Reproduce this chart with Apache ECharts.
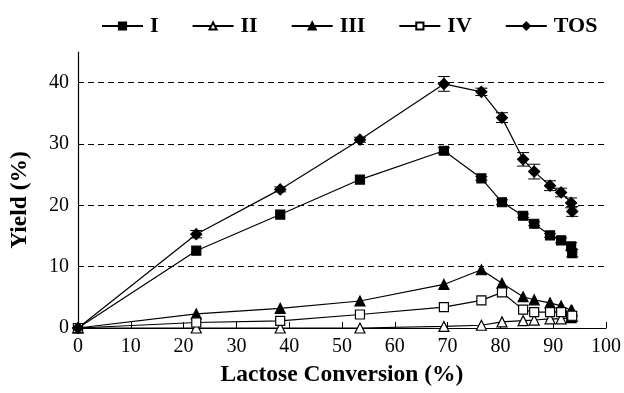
<!DOCTYPE html>
<html>
<head>
<meta charset="utf-8">
<script src="https://cdn.jsdelivr.net/npm/echarts@6/dist/echarts.min.js"></script>
<style>
  html, body { margin: 0; padding: 0; background: #fff; }
  #chart { width: 624px; height: 393px; }
</style>
</head>
<body>
<div id="chart"></div>
<script>
// lactose conversion (%) for each sample
var conversion = [0, 22.4, 38.3, 53.4, 69.3, 76.4, 80.3, 84.3, 86.4, 89.4, 91.5, 93.4, 93.6];
var yieldI   = [0, 12.6, 18.5, 24.2, 28.9, 24.4, 20.5, 18.3, 17.0, 15.1, 14.3, 13.3, 12.2];
var yieldII  = [0, 0, 0, 0, 0.25, 0.45, 1.0, 1.2, 1.3, 1.5, 1.5, 1.7, 1.9];
var yieldIII = [0, 2.3, 3.2, 4.4, 7.1, 9.5, 7.3, 5.1, 4.6, 4.1, 3.6, 2.9, 2.8];
var yieldIV  = [0, 0.9, 1.15, 2.2, 3.4, 4.5, 5.8, 3.0, 2.6, 2.6, 2.6, 2.0, 2.0];
var yieldTOS = [0, 15.3, 22.6, 30.7, 39.8, 38.5, 34.3, 27.5, 25.5, 23.2, 22.1, 20.4, 19.0];
var errTOS   = [0, 0.6, 0.4, 0.4, 1.2, 0.6, 0.8, 1.1, 1.2, 0.8, 0.7, 0.8, 0.8];
var errI     = [0, 0, 0, 0, 0.5, 0.3, 0.4, 0.3, 0.3, 0.3, 0.4, 0.6, 0.6];

var font = 'Liberation Serif';

function pairs(ys) {
  return conversion.map(function (x, i) { return [x, ys[i]]; });
}
function errData(ys, es) {
  var out = [];
  conversion.forEach(function (x, i) {
    if (es[i] > 0) out.push([x, ys[i] - es[i], ys[i] + es[i]]);
  });
  return out;
}
function errSeries(ys, es) {
  return {
    type: 'custom',
    silent: true,
    z: 1,
    data: errData(ys, es),
    renderItem: function (params, api) {
      var lo = api.coord([api.value(0), api.value(1)]);
      var hi = api.coord([api.value(0), api.value(2)]);
      var w = 6;
      var st = { stroke: '#000', lineWidth: 1 };
      return {
        type: 'group',
        children: [
          { type: 'line', shape: { x1: lo[0], y1: lo[1], x2: hi[0], y2: hi[1] }, style: st },
          { type: 'line', shape: { x1: lo[0] - w, y1: lo[1], x2: lo[0] + w, y2: lo[1] }, style: st },
          { type: 'line', shape: { x1: hi[0] - w, y1: hi[1], x2: hi[0] + w, y2: hi[1] }, style: st }
        ]
      };
    }
  };
}
function lineSeries(name, ys, symbol, size, filled) {
  return {
    name: name,
    type: 'line',
    data: pairs(ys),
    symbol: symbol,
    symbolSize: size,
    showAllSymbol: true,
    z: 3,
    lineStyle: { color: '#000', width: 1.2 },
    itemStyle: { color: filled ? '#000' : '#fff', borderColor: '#000', borderWidth: 1.2 },
    emphasis: { disabled: true }
  };
}

var chart = echarts.init(document.getElementById('chart'));
chart.setOption({
  animation: false,
  legend: {
    top: 10,
    left: 96,
    itemWidth: 41,
    itemHeight: 9,
    itemGap: 33,
    textStyle: { fontFamily: font, fontWeight: 'bold', fontSize: 22, color: '#000', padding: [0, 0, 0, 2] },
    data: ['I', 'II', 'III', 'IV', 'TOS']
  },
  grid: { left: 77, right: 18, top: 52, bottom: 65 },
  xAxis: {
    type: 'value',
    min: 0, max: 100, interval: 10,
    name: 'Lactose Conversion (%)',
    nameLocation: 'middle',
    nameGap: 35,
    nameTextStyle: { fontFamily: font, fontWeight: 'bold', fontSize: 23.5, color: '#000' },
    axisLine: { onZero: false, lineStyle: { color: '#000', width: 1.2 } },
    axisTick: { inside: true, length: 6, lineStyle: { color: '#000' } },
    axisLabel: { fontFamily: font, fontSize: 20, color: '#000', margin: 9 },
    splitLine: { show: false }
  },
  yAxis: {
    type: 'value',
    min: 0, max: 45, interval: 10,
    name: 'Yield (%)',
    nameLocation: 'middle',
    nameGap: 46,
    nameTextStyle: { fontFamily: font, fontWeight: 'bold', fontSize: 23.5, color: '#000', padding: [0, 20, 0, 0] },
    axisLine: { show: true, lineStyle: { color: '#000', width: 1.2 } },
    axisTick: { show: true, inside: true, length: 5, lineStyle: { color: '#000' } },
    axisLabel: { fontFamily: font, fontSize: 20, color: '#000', margin: 9, showMaxLabel: false },
    splitLine: { show: true, showMaxLine: false, lineStyle: { color: '#000', type: [6, 4], width: 1 } }
  },
  series: [
    errSeries(yieldTOS, errTOS),
    errSeries(yieldI, errI),
    lineSeries('I', yieldI, 'rect', 9, true),
    lineSeries('II', yieldII, 'triangle', 10, false),
    lineSeries('III', yieldIII, 'triangle', 10, true),
    lineSeries('IV', yieldIV, 'rect', 9, false),
    lineSeries('TOS', yieldTOS, 'diamond', 11, true)
  ]
});
</script>
</body>
</html>
